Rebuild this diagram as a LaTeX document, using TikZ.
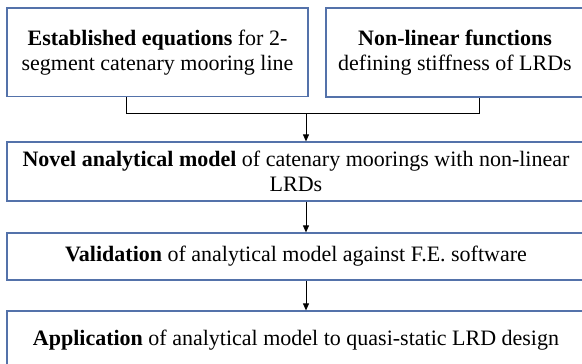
\documentclass[tikz,border=0pt]{standalone}
\usepackage{fontspec}
\setmainfont{Liberation Serif}
\usetikzlibrary{arrows.meta,calc}
\definecolor{boxblue}{RGB}{84,114,170}
\begin{document}
\begin{tikzpicture}[x=1pt,y=-1pt,
  box/.style={draw=boxblue,line width=1.2pt,inner sep=0pt,align=center,font=\fontsize{22}{25}\selectfont},
  conn/.style={draw=black,line width=0.9pt},
  arr/.style={conn,-{Triangle[length=7pt,width=6pt]}}]
\useasboundingbox (0,0) rectangle (582,364);
\clip (0,0) rectangle (582,364);
\node[box,minimum width=301pt,minimum height=88.5pt] (A) at (157.5,52.3)
  {\textbf{Established equations} for 2-\\segment catenary mooring line};
\node[box,minimum width=258pt,minimum height=89pt] (B) at (455,52.5)
  {\textbf{Non-linear functions}\\defining stiffness of LRDs};
\node[box,minimum width=578pt,minimum height=59pt] (N) at (296,171.5)
  {\textbf{Novel analytical model} of catenary moorings with non-linear\\LRDs};
\node[box,minimum width=578pt,minimum height=47pt] (V) at (296,256.5)
  {\textbf{Validation} of analytical model against F.E. software};
\node[box,minimum width=578pt,minimum height=58pt] (P) at (296,340)
  {\textbf{Application} of analytical model to quasi-static LRD design};
\coordinate (jl) at (126,113);
\coordinate (jr) at (479,113);
\coordinate (jm) at (306,113);
\draw[conn] (A.south -| jl) -- (jl) -- (jr) -- (B.south -| jr);
\draw[arr] (jm) -- (N.north -| jm);
\draw[arr] (N.south -| jm) -- (V.north -| jm);
\draw[arr] (V.south -| jm) -- (P.north -| jm);
\end{tikzpicture}
\end{document}
